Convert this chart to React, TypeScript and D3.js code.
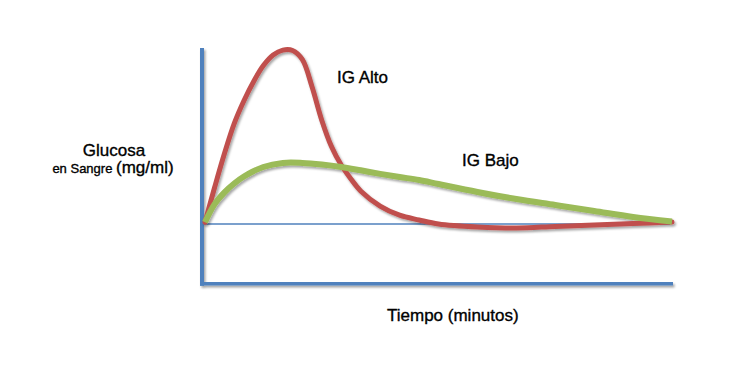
import * as d3 from 'd3';
import React from 'react';

// minutes after intake, and glucose response above baseline (arbitrary units)
const minutosAlto = [0, 2.5, 5, 7.5, 10, 12.5, 15, 17.5, 20, 22.5, 25, 27.5, 30, 32.5, 35, 37.5, 40, 45, 50, 55, 60, 70, 80, 90, 100, 110, 120];
const igAlto = [1, 21, 40, 57, 70, 81, 90, 96, 98.8, 98.6, 93.5, 78, 59, 44, 33.5, 25.6, 18.8, 10.2, 5, 2.3, 0, -1.7, -2.3, -1.4, -0.6, 0.3, 1.1];
const minutosBajo = [0, 2.5, 5, 7.5, 10, 15, 20, 25, 30, 35, 40, 45, 50, 55, 60, 70, 80, 90, 100, 110, 120];
const igBajo = [1, 11.4, 18, 23, 27, 32.4, 34.7, 34.7, 33.8, 32.4, 30.5, 28.5, 26.7, 25, 22.7, 18.2, 14.2, 10.8, 7.4, 4, 1.4];

const labels = { y1: 'Glucosa', y2a: 'en Sangre ', y2b: '(mg/ml)', x: 'Tiempo (minutos)', alto: 'IG Alto', bajo: 'IG Bajo' };

const W = 734;
const H = 392;
const font = '"Liberation Sans", Arial, sans-serif';

export default function App() {
  const x = d3.scaleLinear().domain([0, 120]).range([205, 672]);
  const y = d3.scaleLinear().domain([0, 100]).range([224, 48]);
  const yFloor = -34;

  const mkLine = (xs: number[]) =>
    d3.line<number>()
      .x((_, i) => x(xs[i]))
      .y((d) => y(d))
      .curve(d3.curveCatmullRom.alpha(0.5));

  const x0 = x(0) - 3;
  const x1 = x(120) + 1;
  const txt = { fontFamily: font, fill: '#000', stroke: '#000', strokeWidth: 0.35 };

  return (
    <svg width={W} height={H} style={{ position: 'absolute', left: 0, top: 0, background: '#fff' }}>
      <defs>
        <filter id="sh" x="-10%" y="-10%" width="120%" height="130%">
          <feDropShadow dx="1.5" dy="2" stdDeviation="1.3" floodColor="#000" floodOpacity="0.35" />
        </filter>
      </defs>

      {/* axes */}
      <g filter="url(#sh)">
        <line x1={x0} x2={x0} y1={y(100)} y2={y(yFloor) + 2} stroke="#4F81BD" strokeWidth={4} />
        <line x1={x0 - 2} x2={x1} y1={y(yFloor)} y2={y(yFloor)} stroke="#4F81BD" strokeWidth={3.5} />
      </g>
      <line x1={x0} x2={x(120) - 2} y1={y(0)} y2={y(0)} stroke="#4F81BD" strokeWidth={1.5} />

      <g filter="url(#sh)">
        <path d={mkLine(minutosAlto)(igAlto) || ''} fill="none" stroke="#C0504D" strokeWidth={5} strokeLinecap="round" />
        <path d={mkLine(minutosBajo)(igBajo) || ''} fill="none" stroke="#9BBB59" strokeWidth={6} strokeLinecap="butt" />
      </g>

      <g {...txt}>
        <text x={114} y={156} fontSize={17} textAnchor="middle">{labels.y1}</text>
        <text x={113} y={173} textAnchor="middle">
          <tspan fontSize={13}>{labels.y2a}</tspan>
          <tspan fontSize={17}>{labels.y2b}</tspan>
        </text>
        <text x={337} y={83} fontSize={17}>{labels.alto}</text>
        <text x={462} y={166} fontSize={17}>{labels.bajo}</text>
        <text x={387} y={321} fontSize={17}>{labels.x}</text>
      </g>
    </svg>
  );
}
